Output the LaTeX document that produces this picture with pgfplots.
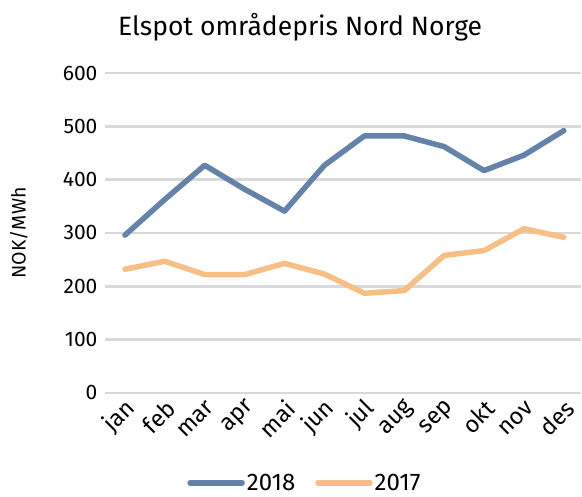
\documentclass[border=0pt]{standalone}
\usepackage{pgfplots}
\pgfplotsset{compat=1.18}
\usepackage{fontspec}
\setmainfont{Fira Sans}
\definecolor{c2018}{RGB}{101,131,168}
\definecolor{c2017}{RGB}{247,190,133}
\definecolor{gridc}{RGB}{217,217,217}
\begin{document}
\begin{tikzpicture}[x=1pt,y=1pt]
\path[use as bounding box] (0,0) rectangle (582,497);
\begin{axis}[
  at={(105pt,104pt)}, anchor=south west,
  scale only axis, width=476pt, height=320pt,
  xmin=-0.5, xmax=11.43, ymin=0, ymax=600,
  axis line style={draw=none},
  ytick={0,100,...,600},
  xtick={0,...,11},
  xticklabels={jan,feb,mar,apr,mai,jun,jul,aug,sep,okt,nov,des},
  x tick label style={xshift=7pt, yshift=-11pt, rotate=45, anchor=east, font=\fontsize{23.5}{25}\selectfont, inner sep=1pt},
  y tick label style={font=\fontsize{21}{23}\selectfont, xshift=-4pt},
  /pgf/number format/assume math mode=true,
  major tick length=0pt,
  ymajorgrids, grid style={gridc, line width=2.4pt},
  ylabel={NOK/MWh}, ylabel style={font=\fontsize{19.5}{21}\selectfont, at={(axis description cs:-0.181,0.5)}, anchor=center, rotate=0},
  title={Elspot områdepris Nord Norge},
  title style={font=\fontsize{26.5}{30}\selectfont, at={(axis description cs:0.41,1)}, anchor=south, yshift=22pt},
  legend style={at={(axis description cs:0.42,-0.24)}, anchor=north, draw=none, legend columns=2, font=\fontsize{24}{26}\selectfont, /tikz/every even column/.append style={column sep=18pt}},
  legend image code/.code={\draw[#1, line width=5.5pt, line cap=round] (0pt,0pt) -- (52pt,0pt);},
  clip=false,
]
\addplot[c2018, line width=5.5pt, line join=round, line cap=round] coordinates {
(0,296) (1,363) (2,427) (3,382) (4,341) (5,427) (6,482) (7,482) (8,462) (9,417) (10,446) (11,492)};
\addlegendentry{2018}
\addplot[c2017, line width=5.5pt, line join=round, line cap=round] coordinates {
(0,232) (1,247) (2,222) (3,222) (4,243) (5,223) (6,187) (7,192) (8,258) (9,267) (10,308) (11,292)};
\addlegendentry{2017}
\end{axis}
\end{tikzpicture}
\end{document}
